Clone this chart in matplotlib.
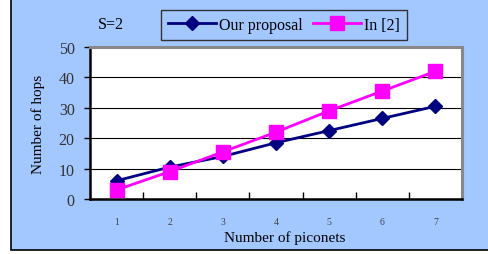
import matplotlib.pyplot as plt
from matplotlib.patches import Rectangle

# Values
piconets = [1, 2, 3, 4, 5, 6, 7]
our_proposal = [6, 10.5, 14, 18.5, 22.5, 26.5, 30.5]
in_2 = [3, 9, 15.5, 22, 29, 35.5, 42]
y_ticks = [0, 10, 20, 30, 40, 50]

plt.rcParams['font.family'] = ['Liberation Serif', 'DejaVu Serif']

fig = plt.figure(figsize=(4.89, 2.55), dpi=100)
fig.patch.set_facecolor('white')
# blue chart area with black frame
bg = Rectangle((11 / 489, 4 / 255), 1.0, 1.0, transform=fig.transFigure,
               facecolor='#A3C7FF', edgecolor='black', linewidth=1.2, zorder=-10)
fig.patches.append(bg)

ax = fig.add_axes([90 / 489, 55 / 255, 372 / 489, 152 / 255])
ax.set_facecolor('white')

ax.plot(piconets, our_proposal, color='#000080', marker='D', markersize=7,
        linewidth=2, label='Our proposal', zorder=3)
ax.plot(piconets, in_2, color='#FF00FF', marker='s', markersize=10,
        linewidth=2, label='In [2]', zorder=4)

ax.set_xlim(0.5, 7.5)
ax.set_ylim(0, 50)
ax.set_yticks(y_ticks)
ax.set_yticklabels([str(v) for v in y_ticks], fontsize=11.5, color='#333333')
ax.yaxis.grid(True, color='black', linewidth=0.8)
ax.set_axisbelow(True)
ax.tick_params(axis='y', length=4, width=1, direction='out', pad=7)

# category boundaries get the tick marks, labels at category centres
ax.set_xticks([1.5, 2.5, 3.5, 4.5, 5.5, 6.5, 7.5])
ax.set_xticks(piconets, minor=True)
ax.set_xticklabels([])
ax.set_xticklabels([str(p) for p in piconets], minor=True, fontsize=7, color='#444444')
ax.tick_params(axis='x', which='major', length=5, width=1, direction='in')
ax.tick_params(axis='x', which='minor', length=0, pad=13)

for side in ['left', 'bottom']:
    ax.spines[side].set_linewidth(1.8)
    ax.spines[side].set_color('black')
for side in ['top', 'right']:
    ax.spines[side].set_linewidth(2.2)
    ax.spines[side].set_color('#888888')

ax.set_ylabel('Number of hops', fontsize=11)
ax.yaxis.set_label_coords(-0.121, 0.5)
ax.set_xlabel('Number of piconets', fontsize=11, va='center')
ax.xaxis.set_label_coords(0.524, -0.25)

fig.text(98 / 489, 1 - 25 / 255, 'S=2', fontsize=11.5, va='center')
leg = fig.legend(loc='center', bbox_to_anchor=(284 / 489, 1 - 26 / 255), ncol=2,
                 fontsize=11.5, frameon=True, fancybox=False, edgecolor='#333333',
                 facecolor='#A3C7FF', framealpha=1, borderpad=0.45,
                 handlelength=3.0, columnspacing=0.6, handletextpad=0.2)
leg.get_frame().set_linewidth(1)

fig.savefig('out.png', dpi=100)
